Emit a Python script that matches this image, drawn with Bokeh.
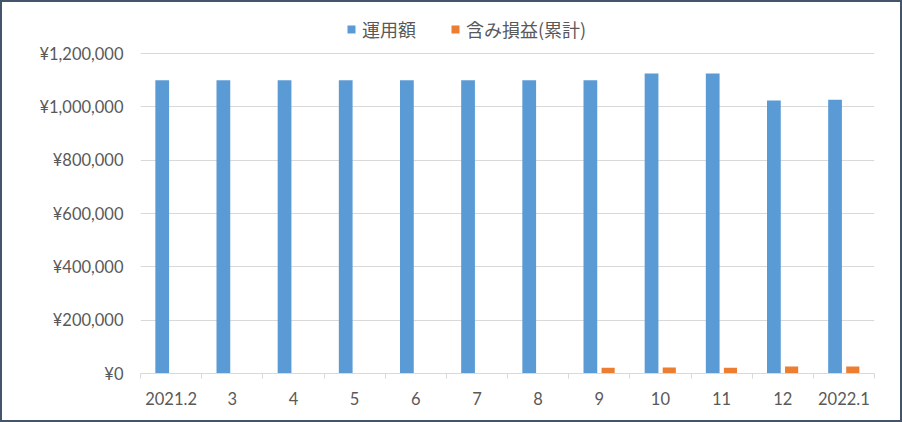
from bokeh.plotting import figure
from bokeh.models import Legend, LegendItem, FixedTicker, Range1d, ColumnDataSource
from bokeh.transform import dodge
from bokeh.embed import file_html
from bokeh.resources import INLINE

months = ["2021.2", "3", "4", "5", "6", "7", "8", "9", "10", "11", "12", "2022.1"]
invested = [1100000, 1100000, 1100000, 1100000, 1100000, 1100000, 1100000, 1100000,
            1125000, 1125000, 1024000, 1027000]
unrealized = [0, 0, 0, 0, 0, 0, 0, 22000, 22500, 22000, 26000, 26500]
y_ticks = [0, 200000, 400000, 600000, 800000, 1000000, 1200000]
series_names = ["運用額", "含み損益(累計)"]

BLUE = "#5B9BD5"
ORANGE = "#ED7D31"
TXT = "#595959"
GRID = "#D9D9D9"

n = len(months)
centers = [i + 0.5 for i in range(n)]
src = ColumnDataSource(dict(x=centers, inv=invested, unr=unrealized))

# frame extends above the top gridline to hold the legend (legend area)
Y_TOP = 1368750

W, H = 902, 422
p = figure(width=W, height=H, output_backend="svg", toolbar_location=None,
           x_range=Range1d(0, n), y_range=Range1d(0, Y_TOP),
           min_border_left=138, min_border_right=30, min_border_top=6, min_border_bottom=51)
p.styles = {"border": "2px solid #44546A"}
p.outline_line_color = None
p.background_fill_color = "white"
p.border_fill_color = "white"

r1 = p.vbar(x=dodge("x", -0.145, range=p.x_range), top="inv", width=0.225, source=src,
            fill_color=BLUE, line_color=None)
r2 = p.vbar(x=dodge("x", 0.145, range=p.x_range), top="unr", width=0.215, source=src,
            fill_color=ORANGE, line_color=None)

# x axis
p.xaxis.ticker = FixedTicker(ticks=centers, minor_ticks=list(range(n + 1)))
p.xaxis.major_label_overrides = {c: m for c, m in zip(centers, months)}
p.xaxis.major_tick_line_color = None
p.xaxis.major_tick_out = 0
p.xaxis.major_tick_in = 0
p.xaxis.minor_tick_line_color = GRID
p.xaxis.minor_tick_out = 5
p.xaxis.minor_tick_in = 0
p.xaxis.axis_line_color = GRID
p.xaxis.major_label_text_font = "Lato"
p.xaxis.major_label_text_font_size = "16.5px"
p.xaxis.major_label_text_color = TXT
p.xaxis.major_label_standoff = 13

# y axis
p.yaxis.ticker = FixedTicker(ticks=y_ticks)
p.yaxis.major_label_overrides = {t: "¥{:,}".format(t) for t in y_ticks}
p.yaxis.axis_line_color = None
p.yaxis.major_tick_line_color = None
p.yaxis.minor_tick_line_color = None
p.yaxis.major_tick_out = 0
p.yaxis.major_label_text_font = "Lato"
p.yaxis.major_label_text_font_size = "16.5px"
p.yaxis.major_label_text_color = TXT
p.yaxis.major_label_standoff = 17

p.xgrid.grid_line_color = None
p.ygrid.grid_line_color = GRID
p.ygrid.ticker = FixedTicker(ticks=y_ticks)

legend = Legend(items=[LegendItem(label=series_names[0], renderers=[r1]),
                       LegendItem(label=series_names[1], renderers=[r2])],
                orientation="horizontal", location=(206, 331),
                glyph_width=10, glyph_height=10, label_standoff=6, spacing=34,
                padding=0, margin=0, border_line_color=None, background_fill_alpha=0,
                label_text_font="Noto Sans CJK JP", label_text_font_size="18px",
                label_text_color=TXT, label_height=20)
p.add_layout(legend, "center")

open("out.html", "w").write(file_html(p, INLINE))
